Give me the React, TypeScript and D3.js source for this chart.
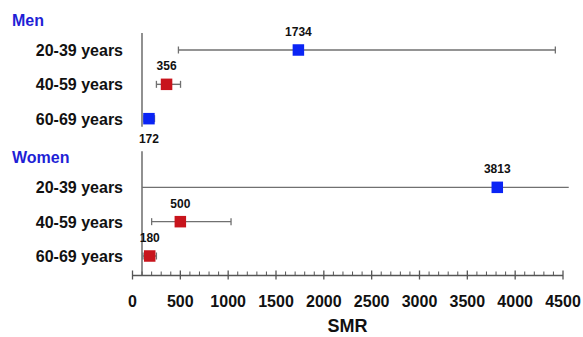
import React, { useRef, useEffect } from 'react';
import * as d3 from 'd3';

// groups and rows
const groups = ['Men', 'Women'];
const ageGroups = ['20-39 years', '40-59 years', '60-69 years'];

// SMR with 95% CI
const menSMR = [1734, 356, 172];
const menLow = [480, 250, 120];
const menHigh = [4420, 502, 230];
const womenSMR = [3813, 500, 180];
const womenLow = [90, 200, 110];
const womenHigh = [4560, 1030, 250];

// marker colours per row (blue / red)
const menColor = ['#0a24f5', '#c8141c', '#0a24f5'];
const womenColor = ['#0a24f5', '#c8141c', '#c8141c'];
// value label above or below the marker
const menLabelPos = ['above', 'above', 'below'];
const womenLabelPos = ['above', 'above', 'above'];

const xTicks = [0, 500, 1000, 1500, 2000, 2500, 3000, 3500, 4000, 4500];
const minorStep = 100;

const App = () => {
    const svgRef = useRef();
    const width = 583;
    const height = 337;

    useEffect(() => {
        const svg = d3.select(svgRef.current);
        svg.selectAll('*').remove();

        const font = '"Liberation Sans", Arial, sans-serif';

        const x = d3.scaleLinear()
            .domain([0, 4500])
            .range([132.5, 563]);

        const rowKeys = ['m0', 'm1', 'm2', 'gap', 'w0', 'w1', 'w2'];
        const y = d3.scalePoint()
            .domain(rowKeys)
            .range([50, 256]);

        const axisY = 275.5;
        const yAxisX = x(0) + 9.5;

        const rows = [];
        ageGroups.forEach((age, i) => {
            rows.push({ key: 'm' + i, age, smr: menSMR[i], lo: menLow[i], hi: menHigh[i], color: menColor[i], pos: menLabelPos[i] });
        });
        ageGroups.forEach((age, i) => {
            rows.push({ key: 'w' + i, age, smr: womenSMR[i], lo: womenLow[i], hi: womenHigh[i], color: womenColor[i], pos: womenLabelPos[i] });
        });

        // group headers
        svg.selectAll('.group')
            .data(groups)
            .enter()
            .append('text')
                .attr('x', 12)
                .attr('y', (d, i) => y(i === 0 ? 'm0' : 'w0') - 24)
                .attr('fill', '#1f1fd6')
                .attr('font-family', font)
                .attr('font-weight', 'bold')
                .attr('font-size', 16)
                .text(d => d);

        // vertical axis pieces, one per group
        svg.append('line')
            .attr('x1', yAxisX).attr('x2', yAxisX)
            .attr('y1', y('m0') - 17).attr('y2', y('m2') + 8)
            .attr('stroke', '#555').attr('stroke-width', 1.3);
        svg.append('line')
            .attr('x1', yAxisX).attr('x2', yAxisX)
            .attr('y1', y('w0') - 36).attr('y2', axisY)
            .attr('stroke', '#555').attr('stroke-width', 1.3);

        // row labels
        svg.selectAll('.age')
            .data(rows)
            .enter()
            .append('text')
                .attr('x', 123)
                .attr('y', d => y(d.key) + 6)
                .attr('text-anchor', 'end')
                .attr('fill', '#111')
                .attr('font-family', font)
                .attr('font-weight', 'bold')
                .attr('font-size', 16)
                .text(d => d.age);

        // error bars
        const xMax = x(4500);
        rows.forEach(d => {
            const x1 = Math.max(x(d.lo), yAxisX);
            const x2 = Math.min(x(d.hi), x(4500) + 6);
            const cy = y(d.key);
            svg.append('line')
                .attr('x1', x1).attr('x2', x2)
                .attr('y1', cy).attr('y2', cy)
                .attr('stroke', '#707070').attr('stroke-width', 1.4);
            [d.lo, d.hi].forEach(v => {
                const cx = x(v);
                if (cx <= yAxisX || cx > xMax) return;
                svg.append('line')
                    .attr('x1', cx).attr('x2', cx)
                    .attr('y1', cy - 3.5).attr('y2', cy + 3.5)
                    .attr('stroke', '#707070').attr('stroke-width', 1.3);
            });
        });

        // markers
        const s = 11.5;
        svg.selectAll('.marker')
            .data(rows)
            .enter()
            .append('rect')
                .attr('x', d => x(d.smr) - s / 2)
                .attr('y', d => y(d.key) - s / 2)
                .attr('width', s)
                .attr('height', s)
                .attr('fill', d => d.color);

        // value labels
        svg.selectAll('.value')
            .data(rows)
            .enter()
            .append('text')
                .attr('x', d => x(d.smr))
                .attr('y', d => y(d.key) + (d.pos === 'above' ? -14 : 24))
                .attr('text-anchor', 'middle')
                .attr('fill', '#111')
                .attr('font-family', font)
                .attr('font-weight', 'bold')
                .attr('font-size', 12)
                .text(d => d.smr);

        // x axis
        svg.append('line')
            .attr('x1', x(0)).attr('x2', x(4500))
            .attr('y1', axisY).attr('y2', axisY)
            .attr('stroke', '#555').attr('stroke-width', 1.3);

        const minors = d3.range(0, 4500 + 1, minorStep).filter(v => v % 500 !== 0);
        svg.selectAll('.minor')
            .data(minors)
            .enter()
            .append('line')
                .attr('x1', d => x(d)).attr('x2', d => x(d))
                .attr('y1', axisY - 4).attr('y2', axisY)
                .attr('stroke', '#555').attr('stroke-width', 1);

        svg.selectAll('.major')
            .data(xTicks)
            .enter()
            .append('line')
                .attr('x1', d => x(d)).attr('x2', d => x(d))
                .attr('y1', axisY - 5).attr('y2', axisY + 4)
                .attr('stroke', '#555').attr('stroke-width', 1.3);

        svg.selectAll('.tick-label')
            .data(xTicks)
            .enter()
            .append('text')
                .attr('x', d => x(d))
                .attr('y', axisY + 31)
                .attr('text-anchor', 'middle')
                .attr('fill', '#111')
                .attr('font-family', font)
                .attr('font-weight', 'bold')
                .attr('font-size', 16)
                .text(d => d);

        svg.append('text')
            .attr('x', 347.5)
            .attr('y', 332)
            .attr('text-anchor', 'middle')
            .attr('fill', '#111')
            .attr('font-family', font)
            .attr('font-weight', 'bold')
            .attr('font-size', 18)
            .text('SMR');
    }, []);

    return (
        <div className="main">
            <svg ref={svgRef} width={width} height={height}
                style={{ position: 'absolute', left: 0, top: 0, background: '#fff' }} />
        </div>
    );
};

export default App;
